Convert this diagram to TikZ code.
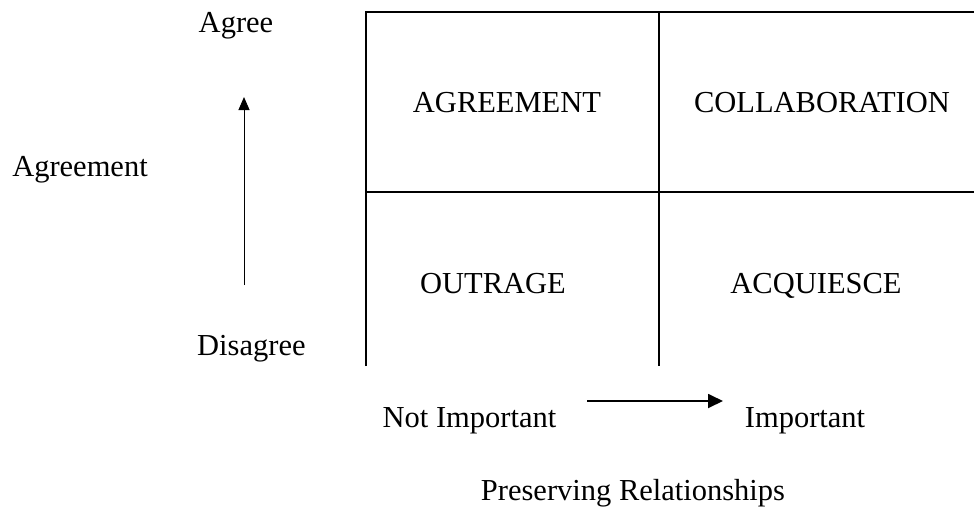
\documentclass[tikz,border=0pt]{standalone}
\usepackage{fontspec}
\setmainfont{Liberation Serif}
\usetikzlibrary{arrows.meta}
\tikzset{
	lbl/.style={inner sep=0pt, anchor=base, font=\fontsize{30.5}{36}\selectfont},
	grid/.style={line width=1.7pt},
}

\begin{document}
\begin{tikzpicture}[x=1pt, y=-1pt]
		%%%%% START %%%%%
		
		\useasboundingbox (0, 0) rectangle (974, 509);
		
		% grid
		\draw[grid] (366, 366) -- (366, 12) -- (974, 12);
		\draw[grid] (659, 12) -- (659, 366);
		\draw[grid] (366, 192) -- (974, 192);
		
		% quadrants
		\node[lbl] (agreement) at (507, 112) {AGREEMENT};
		\node[lbl] (collab) at (822, 112) {COLLABORATION};
		\node[lbl] (outrage) at (493, 293) {OUTRAGE};
		\node[lbl] (acquiesce) at (816, 293) {ACQUIESCE};
		
		% vertical axis
		\node[lbl] (agree) at (236, 32) {Agree};
		\node[lbl] (agreeaxis) at (80, 176) {Agreement};
		\node[lbl, anchor=base west] (disagree) at (197, 355) {Disagree};
		\coordinate (vlow) at (244, 285);
		\coordinate (vhigh) at (244, 97);
		\draw[line width=1pt, -{Triangle[length=13pt, width=11pt]}] (vlow) -- (vhigh);
		
		% horizontal axis
		\node[lbl] (notimp) at (469.5, 427) {Not Important};
		\node[lbl] (imp) at (805, 427) {Important};
		\node[lbl] (preserve) at (633, 500) {Preserving Relationships};
		\coordinate (hleft) at (587, 401);
		\coordinate (hright) at (723, 401);
		\draw[line width=1.8pt, -{Triangle[length=15pt, width=14pt]}] (hleft) -- (hright);
		
		%%%%% END %%%%%
	\end{tikzpicture}
\end{document}
